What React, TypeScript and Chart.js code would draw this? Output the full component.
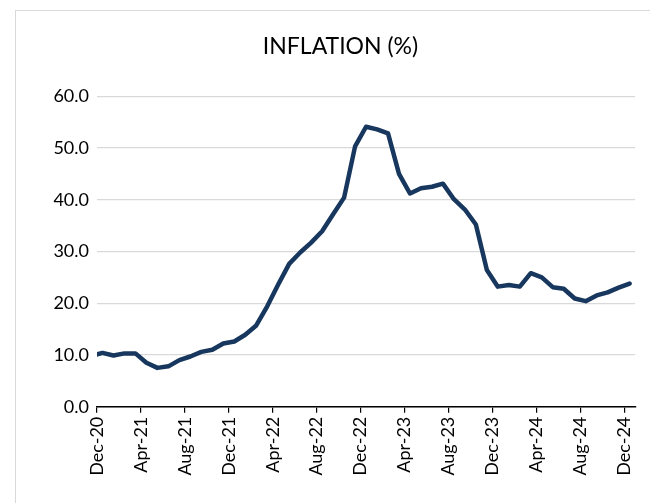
import React, { useEffect, useRef } from "react";
import { Chart, registerables } from "chart.js";

Chart.register(...registerables);

// Monthly periods (Nov-20 sits just left of the axis and is clipped)
const months: string[] = [
  "Nov-20", "Dec-20",
  "Jan-21", "Feb-21", "Mar-21", "Apr-21", "May-21", "Jun-21", "Jul-21", "Aug-21", "Sep-21", "Oct-21", "Nov-21", "Dec-21",
  "Jan-22", "Feb-22", "Mar-22", "Apr-22", "May-22", "Jun-22", "Jul-22", "Aug-22", "Sep-22", "Oct-22", "Nov-22", "Dec-22",
  "Jan-23", "Feb-23", "Mar-23", "Apr-23", "May-23", "Jun-23", "Jul-23", "Aug-23", "Sep-23", "Oct-23", "Nov-23", "Dec-23",
  "Jan-24", "Feb-24", "Mar-24", "Apr-24", "May-24", "Jun-24", "Jul-24", "Aug-24", "Sep-24", "Oct-24", "Nov-24", "Dec-24",
];

const inflation: number[] = [
  9.8, 10.4,
  9.9, 10.3, 10.3, 8.5, 7.5, 7.8, 9.0, 9.7, 10.6, 11.0, 12.2, 12.6,
  13.9, 15.7, 19.4, 23.6, 27.6, 29.8, 31.7, 33.9, 37.2, 40.4, 50.3, 54.1,
  53.6, 52.8, 45.0, 41.2, 42.2, 42.5, 43.1, 40.1, 38.1, 35.2, 26.4, 23.2,
  23.5, 23.2, 25.8, 25.0, 23.1, 22.8, 20.9, 20.4, 21.5, 22.1, 23.0, 23.8,
];

const xTickLabels: string[] = [
  "Dec-20", "Apr-21", "Aug-21", "Dec-21", "Apr-22", "Aug-22", "Dec-22",
  "Apr-23", "Aug-23", "Dec-23", "Apr-24", "Aug-24", "Dec-24",
];

const yTicks: number[] = [0, 10, 20, 30, 40, 50, 60];

const TITLE = "INFLATION (%)";
const FONT = "Lato, 'Open Sans', sans-serif";

export default function App() {
  const ref = useRef<HTMLCanvasElement | null>(null);

  useEffect(() => {
    if (!ref.current) return;
    const points = inflation.map((v, i) => ({ x: i - 0.5, y: v }));
    const chart = new Chart(ref.current, {
      type: "line",
      data: {
        datasets: [
          {
            label: "Inflation",
            data: points,
            borderColor: "#17375e",
            borderWidth: 4.5,
            pointRadius: 0,
            tension: 0,
            borderJoinStyle: "round",
            borderCapStyle: "round",
            clip: { left: 0, top: 10, right: 10, bottom: 10 } as any,
          },
        ],
      },
      options: {
        animation: false,
        responsive: true,
        maintainAspectRatio: false,
        layout: { padding: { left: 44, right: 13, top: 0, bottom: 0 } },
        plugins: {
          legend: { display: false },
          tooltip: { enabled: false },
          title: {
            display: true,
            text: TITLE,
            color: "#000",
            font: { family: FONT, size: 23, weight: "normal", lineHeight: 1.2 },
            padding: { top: 33, bottom: 35.6 },
          },
        },
        scales: {
          x: {
            type: "linear",
            min: 0,
            max: 49,
            afterBuildTicks: (scale: any) => {
              scale.ticks = xTickLabels.map((_, i) => ({ value: i * 4 }));
            },
            afterFit: (scale: any) => {
              scale.height = 96.3;
            },
            ticks: {
              autoSkip: false,
              maxRotation: 90,
              minRotation: 90,
              padding: 4,
              color: "#000",
              font: { family: FONT, size: 18 },
              callback: (v: any) => xTickLabels[Math.round(Number(v) / 4)] ?? "",
            },
            grid: {
              display: true,
              drawOnChartArea: false,
              drawTicks: true,
              tickLength: 6,
              color: "#000",
              lineWidth: 1.2,
            },
            border: { display: true, color: "#000", width: 1.5 },
          },
          y: {
            min: 0,
            max: 60,
            afterBuildTicks: (scale: any) => {
              scale.ticks = yTicks.map((v) => ({ value: v }));
            },
            afterFit: (scale: any) => {
              scale.width = 53;
            },
            ticks: {
              padding: 8,
              color: "#000",
              font: { family: FONT, size: 18 },
              callback: (v: any) => Number(v).toFixed(1),
            },
            grid: { color: "#d9d9d9", lineWidth: 1.2, drawTicks: false },
            border: { display: false },
          },
        },
      },
    });
    return () => chart.destroy();
  }, []);

  return (
    <div style={{ position: "fixed", left: 0, top: 0, width: 650, height: 503, background: "#fff", overflow: "hidden" }}>
      <div
        style={{
          position: "absolute",
          left: 15,
          top: 10,
          width: 700,
          height: 600,
          borderLeft: "1.5px solid #d9d9d9",
          borderTop: "1.5px solid #d9d9d9",
        }}
      />
      <div style={{ position: "absolute", left: 0, top: 0, width: 650, height: 503 }}>
        <canvas ref={ref} />
      </div>
    </div>
  );
}
